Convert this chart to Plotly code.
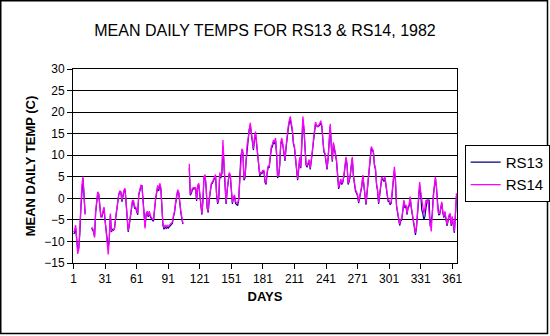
import plotly.graph_objects as go

days = list(range(1, 366))

rs14 = [
    -7.8, -7.5, -6.2, -10.5, -12.9, -11.8, -7.9, -1.8, 3.2, 5.0,
    0.4, -3.8, None, None, None, None, None, -6.8, -6.9, -7.5,
    -9.1, -3.1, -0.8, 1.5, 1.0, -2.0, -4.5, -4.0, -3.0, -2.0,
    -5.0, -7.5, -9.5, -13.0, -9.0, -3.5, -7.5, -7.5, -7.2, -7.0,
    -4.5, -2.8, -0.3, 1.0, 1.8, 1.2, -0.5, 1.0, 2.0, 2.3,
    -1.0, -5.0, -7.5, -6.0, -4.5, -2.0, -0.5, -0.5, -2.0, -2.0,
    -3.0, -3.5, 1.0, 2.5, 3.0, 2.8, 0.0, -3.5, -7.0, -3.5,
    -3.0, -4.0, -3.0, -4.0, -4.5, -4.8, -5.0, -2.0, 0.0, 1.5,
    3.0, 2.0, 3.5, 2.5, -4.0, -6.0, -6.8, -6.2, -6.6, -6.3,
    -6.5, -6.2, -6.0, -5.8, -5.5, -4.0, -3.0, -1.0, 0.5, 2.0,
    1.5, -1.5, -3.0, -4.5, -5.8, None, None, None, None, None,
    8.0, 1.0, 1.5, 2.3, 2.5, 2.5, 2.5, -0.3, 3.0, 3.5,
    1.5, -1.5, -3.5, -0.3, 5.0, 5.5, 3.0, -2.0, -3.0, 0.0,
    2.5, 3.5, 3.8, 4.5, 5.0, 5.5, 1.0, -1.0, 0.0, 6.0,
    5.0, 6.0, 13.5, 8.5, 3.0, -1.0, 2.0, 3.5, 6.0, 5.5,
    1.5, -1.0, 0.3, 0.8, -0.8, -1.0, -1.2, 0.0, 5.0, 10.0,
    11.5, 11.0, 4.5, 5.0, 9.0, 12.5, 14.0, 16.5, 17.5, 15.5,
    13.0, 11.5, 14.0, 15.5, 13.0, 10.5, 8.5, 5.5, 6.0, 6.0,
    6.5, 6.5, 4.0, 3.5, 6.0, 7.5, 7.5, 9.5, 12.0, 12.5,
    13.5, 13.0, 14.0, 10.5, 5.0, 5.5, 8.0, 13.0, 14.0, 12.5,
    11.0, 9.0, 12.0, 15.0, 16.5, 18.0, 19.0, 17.5, 16.0, 13.0,
    12.0, 9.5, 6.5, 4.5, 7.0, 9.5, 7.3, 12.0, 19.0, 16.5,
    11.0, 8.0, 7.5, 8.5, 9.0, 7.0, 8.5, 11.0, 13.5, 16.0,
    17.7, 17.0, 16.5, 17.0, 17.3, 18.0, 17.0, 13.5, 11.0, 10.5,
    9.0, 7.0, 9.5, 14.0, 17.3, 12.5, 8.8, 13.0, 11.0, 10.4,
    8.8, 5.0, 2.5, 3.5, 4.5, 3.5, 4.0, 5.4, 7.3, 9.6,
    8.0, 3.5, 4.2, 5.4, 7.7, 9.6, 5.5, 3.5, 2.0, 1.5,
    0.8, -0.8, 0.4, 1.0, 3.0, 5.4, 3.5, 0.4, -1.2, 1.5,
    4.5, 8.0, 10.4, 12.0, 11.5, 11.0, 8.0, 7.0, 3.5, 2.0,
    -1.0, 1.2, 3.5, 5.0, 4.6, 4.2, 5.0, 3.0, 1.9, -0.4,
    -0.5, -1.2, -0.8, 2.0, 5.0, 7.3, 4.5, -1.5, -3.0, -4.5,
    -6.0, -5.0, -4.6, -2.7, -0.4, -1.9, -1.5, -3.5, -1.9, -1.5,
    0.4, -1.9, -4.2, -5.0, -6.5, -8.0, -6.5, -3.5, -0.4, 3.8,
    1.5, -0.4, -1.9, -3.5, -2.3, -0.4, -1.2, -0.4, -3.5, -5.8,
    -7.7, -3.5, 1.2, 3.0, 5.0, 2.7, -1.9, -3.5, -3.5, -1.9,
    -0.8, -3.0, -4.2, -3.0, -4.6, -6.1, -5.0, -3.8, -3.5, -6.1,
    -4.2, -6.5, -7.7, -3.5, 1.2,
]

rs13 = [
    -8.2, -8.0, -6.8, -10.0, -12.0, -11.5, -8.2, -2.2, 2.8, 4.6,
    0.8, -3.5, None, None, None, None, None, -7.0, -7.2, -7.8,
    -8.8, -3.4, -1.0, 1.2, 0.8, -2.4, -4.2, -4.3, -3.2, -2.3,
    -5.3, -7.2, -9.0, -11.5, -9.5, -4.0, -7.8, -7.2, -7.5, -6.8,
    -4.8, -3.0, -0.6, 0.8, 1.5, 1.5, -0.8, 0.7, 1.7, 2.0,
    -1.3, -5.3, -7.8, -6.3, -4.8, -2.3, -0.8, -0.8, -2.3, -2.2,
    -3.3, -3.8, 0.7, 2.2, 2.7, 3.1, -0.3, -3.8, -6.5, -3.8,
    -3.3, -4.3, -3.3, -4.3, -4.8, -5.1, -5.3, -2.3, -0.3, 1.2,
    2.7, 1.7, 3.2, 2.2, -4.3, -6.3, -7.2, -6.6, -7.0, -6.7,
    -6.9, -6.6, -6.3, -6.1, -5.8, -4.3, -3.3, -1.3, 0.2, 1.7,
    1.2, -1.8, -3.3, -4.8, -6.0, None, None, None, None, None,
    7.0, 0.7, 1.2, 2.0, 2.2, 2.2, 2.2, -0.6, 2.7, 3.2,
    1.2, -1.8, -3.8, -0.6, 4.6, 5.2, 2.7, -2.3, -3.3, -0.3,
    2.2, 3.2, 3.5, 4.2, 4.7, 5.2, 0.7, -1.3, -0.3, 5.5,
    4.7, 5.7, 12.0, 8.0, 2.7, -1.3, 1.7, 3.2, 5.7, 5.2,
    1.2, -1.3, 0.0, 0.5, -1.2, -1.5, -1.7, -0.4, 4.7, 9.5,
    11.0, 10.5, 4.2, 4.7, 8.5, 12.0, 13.5, 16.0, 17.0, 15.0,
    12.6, 11.2, 13.6, 15.0, 12.6, 10.2, 8.2, 5.2, 5.7, 5.7,
    6.2, 6.2, 3.7, 3.2, 5.7, 7.2, 7.2, 9.2, 11.5, 12.0,
    13.0, 12.6, 13.6, 10.2, 4.7, 5.2, 7.7, 12.6, 13.5, 12.2,
    10.7, 8.7, 11.6, 14.6, 16.0, 17.5, 18.3, 17.0, 15.6, 12.6,
    11.7, 9.2, 6.2, 4.2, 6.7, 9.2, 7.0, 11.6, 18.3, 16.0,
    10.7, 7.7, 7.2, 8.2, 8.7, 6.7, 8.2, 10.7, 13.0, 15.6,
    17.2, 16.8, 16.8, 16.7, 17.0, 17.5, 16.6, 13.2, 10.7, 10.2,
    8.7, 6.7, 9.2, 13.5, 16.7, 12.2, 8.5, 12.6, 10.7, 10.1,
    8.5, 4.7, 2.2, 3.2, 4.2, 3.2, 3.7, 5.1, 7.0, 9.2,
    7.7, 3.2, 3.9, 5.1, 7.4, 9.2, 5.2, 3.2, 1.7, 1.2,
    0.5, -1.1, 0.1, 0.7, 2.7, 5.1, 3.2, 0.1, -1.5, 1.2,
    4.2, 7.7, 10.1, 11.6, 11.2, 10.7, 7.7, 6.7, 3.2, 1.7,
    -1.3, 0.9, 3.2, 4.7, 4.3, 3.9, 4.7, 2.7, 1.6, -0.7,
    -0.8, -1.5, -1.1, 1.7, 4.5, 6.5, 4.0, -1.8, -3.3, -4.8,
    -6.3, -5.3, -4.9, -3.0, -0.7, -2.2, -1.8, -3.8, -2.2, -1.8,
    0.1, -2.2, -4.5, -5.3, -6.8, -8.5, -6.8, -3.8, -0.7, 3.0,
    1.0, -2.7, -3.5, -5.0, -4.2, -1.9, -0.4, -0.4, -0.4, -6.5,
    -5.0, -3.8, 0.9, 2.7, 4.5, 2.4, -2.2, -3.8, -3.8, -2.2,
    -1.1, -3.3, -4.5, -3.3, -4.9, -6.4, -5.3, -4.1, -3.8, -6.4,
    -4.5, -6.8, -8.0, -3.8, 0.5,
]

x_tick_vals = [1, 31, 61, 91, 121, 151, 181, 211, 241, 271, 301, 331, 361]
x_tick_text = [str(v) for v in x_tick_vals]
y_tick_vals = [-15, -10, -5, 0, 5, 10, 15, 20, 25, 30]

FONT = "Arial, Liberation Sans, sans-serif"

fig = go.Figure()
fig.add_trace(go.Scatter(x=days, y=rs13, mode="lines", name="RS13",
                         legendgroup="a",
                         line=dict(color="#000080", width=1.2)))
fig.add_trace(go.Scatter(x=days, y=rs14, mode="lines", name="RS14",
                         legendgroup="b",
                         line=dict(color="#FF00FF", width=1.3)))

fig.update_layout(
    width=550, height=336,
    margin=dict(l=73, r=93, t=69, b=73, autoexpand=False),
    paper_bgcolor="white", plot_bgcolor="white",
    font=dict(family=FONT, color="black", size=12),
    title=dict(text="MEAN DAILY TEMPS FOR RS13 & RS14, 1982",
               x=0.5, xanchor="center", xref="paper",
               y=1 - 30 / 336, yanchor="middle",
               font=dict(size=16, family=FONT, color="black")),
    showlegend=True,
    legend=dict(x=1.02, y=0.609, xanchor="left", yanchor="top",
                bordercolor="black", borderwidth=1, bgcolor="white",
                font=dict(size=15, family=FONT, color="black"),
                tracegroupgap=0),
    xaxis=dict(range=[0.5, 365.5], tickmode="array", tickvals=x_tick_vals,
               ticktext=x_tick_text, ticks="outside", ticklen=5,
               tickcolor="black", showgrid=False, zeroline=False,
               showline=True, linecolor="black", linewidth=1, mirror=True,
               tickfont=dict(size=12, family=FONT, color="black"),
               title=dict(text="<b>DAYS</b>", standoff=6,
                          font=dict(size=13, family=FONT, color="black"))),
    yaxis=dict(range=[-15, 30], tickmode="array", tickvals=y_tick_vals,
               ticks="outside", ticklen=5, tickcolor="black",
               showgrid=True, gridcolor="black", gridwidth=1,
               zeroline=False, showline=True, linecolor="black",
               linewidth=1, mirror=True,
               tickfont=dict(size=12, family=FONT, color="black"),
               title=dict(text="<b>MEAN DAILY TEMP (C)</b>", standoff=5,
                          font=dict(size=13, family=FONT, color="black"))),
)

# outer chart border
fig.add_shape(type="rect", xref="paper", yref="paper",
              x0=(0.75 - 73) / 384, x1=(547.5 - 73) / 384,
              y0=(263 - 333.5) / 194, y1=(263 - 0.75) / 194,
              line=dict(color="black", width=1.5), layer="below")

fig.write_html("out.html")
